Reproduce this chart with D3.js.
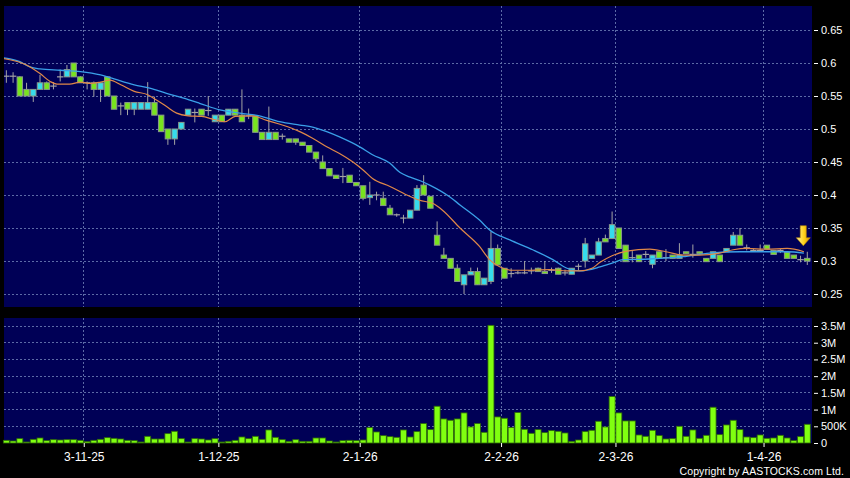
<!DOCTYPE html>
<html>
<head>
<meta charset="utf-8">
<script src="https://cdn.jsdelivr.net/npm/d3@7"></script>
<style>
  body { margin: 0; background: #000; }
  svg { display: block; }
  text { font-family: "Liberation Sans", Arial, sans-serif; fill: #fff; }
</style>
</head>
<body>
<svg></svg>
<script>
// daily OHLC, one entry per trading day (index 0 .. 119)
const opens = [0.58,0.58,0.579,0.56,0.55,0.56,0.57,0.565,0.579,0.579,0.60,0.579,0.57,0.57,0.56,0.579,0.55,0.535,0.54,0.53,
  0.53,0.53,0.54,0.521,0.50,0.485,0.50,0.521,0.525,0.53,0.528,0.511,0.521,0.521,0.53,0.521,0.52,0.52,0.495,0.484,
  0.495,0.489,0.485,0.485,0.48,0.475,0.465,0.45,0.44,0.43,0.428,0.43,0.419,0.414,0.396,0.40,0.395,0.38,0.37,0.365,
  0.365,0.377,0.415,0.398,0.339,0.309,0.304,0.289,0.264,0.279,0.284,0.264,0.269,0.319,0.289,0.281,0.282,0.282,0.285,0.289,
  0.284,0.286,0.289,0.282,0.28,0.292,0.30,0.304,0.309,0.334,0.334,0.35,0.324,0.305,0.309,0.31,0.295,0.314,0.305,0.309,
  0.304,0.314,0.31,0.314,0.304,0.304,0.309,0.314,0.324,0.339,0.32,0.316,0.316,0.324,0.316,0.316,0.313,0.309,0.302,0.304];
const highs = [0.589,0.586,0.58,0.57,0.56,0.582,0.572,0.571,0.59,0.597,0.60,0.58,0.572,0.572,0.57,0.58,0.55,0.54,0.54,0.54,
  0.54,0.571,0.549,0.521,0.50,0.50,0.51,0.53,0.531,0.53,0.55,0.521,0.521,0.53,0.53,0.56,0.531,0.52,0.495,0.534,
  0.495,0.493,0.485,0.485,0.48,0.475,0.465,0.46,0.44,0.43,0.441,0.43,0.419,0.414,0.42,0.405,0.405,0.385,0.372,0.37,
  0.377,0.415,0.43,0.398,0.36,0.32,0.304,0.295,0.279,0.29,0.29,0.274,0.345,0.325,0.289,0.289,0.285,0.30,0.29,0.29,
  0.30,0.29,0.29,0.287,0.289,0.296,0.335,0.309,0.335,0.34,0.375,0.35,0.324,0.315,0.309,0.315,0.309,0.314,0.318,0.309,
  0.327,0.314,0.325,0.314,0.304,0.314,0.309,0.319,0.344,0.35,0.325,0.318,0.325,0.324,0.316,0.318,0.313,0.309,0.308,0.314];
const lows = [0.57,0.57,0.55,0.55,0.541,0.56,0.56,0.56,0.572,0.579,0.579,0.57,0.56,0.549,0.541,0.55,0.53,0.521,0.521,0.521,
  0.53,0.53,0.521,0.496,0.476,0.476,0.50,0.521,0.51,0.521,0.52,0.511,0.511,0.521,0.521,0.511,0.515,0.495,0.484,0.484,
  0.484,0.484,0.48,0.476,0.475,0.465,0.45,0.44,0.429,0.425,0.418,0.419,0.414,0.392,0.385,0.392,0.384,0.37,0.367,0.357,
  0.365,0.377,0.40,0.38,0.324,0.304,0.289,0.269,0.25,0.279,0.264,0.264,0.265,0.294,0.274,0.275,0.28,0.28,0.28,0.284,
  0.281,0.282,0.28,0.278,0.28,0.285,0.29,0.304,0.309,0.329,0.334,0.319,0.299,0.298,0.299,0.305,0.289,0.304,0.30,0.304,
  0.304,0.311,0.305,0.311,0.299,0.304,0.299,0.314,0.324,0.324,0.316,0.314,0.314,0.318,0.31,0.312,0.304,0.304,0.298,0.294];
const closes = [0.58,0.58,0.55,0.55,0.56,0.57,0.56,0.565,0.579,0.59,0.579,0.57,0.57,0.56,0.57,0.55,0.53,0.535,0.53,0.54,
  0.54,0.54,0.521,0.496,0.485,0.50,0.51,0.53,0.525,0.521,0.528,0.521,0.511,0.53,0.521,0.511,0.52,0.495,0.484,0.495,
  0.484,0.489,0.48,0.48,0.475,0.465,0.455,0.44,0.429,0.425,0.428,0.419,0.414,0.395,0.40,0.40,0.384,0.37,0.37,0.365,
  0.377,0.41,0.40,0.38,0.324,0.304,0.289,0.269,0.279,0.284,0.264,0.274,0.319,0.294,0.274,0.281,0.282,0.282,0.285,0.284,
  0.281,0.286,0.28,0.282,0.289,0.292,0.326,0.309,0.329,0.329,0.355,0.319,0.299,0.305,0.299,0.31,0.309,0.304,0.305,0.304,
  0.309,0.311,0.31,0.311,0.299,0.314,0.299,0.319,0.339,0.324,0.32,0.316,0.316,0.318,0.31,0.316,0.304,0.304,0.302,0.30];
// daily volume, shares
const volumes = [80e3,60e3,130e3,30e3,110e3,150e3,70e3,100e3,90e3,100e3,100e3,80e3,40e3,80e3,110e3,160e3,140e3,120e3,80e3,70e3,
  30e3,200e3,120e3,120e3,280e3,350e3,130e3,30e3,130e3,120e3,90e3,130e3,30e3,50e3,80e3,180e3,130e3,200e3,110e3,390e3,
  170e3,100e3,50e3,100e3,50e3,50e3,150e3,150e3,60e3,30e3,70e3,80e3,70e3,90e3,460e3,330e3,220e3,190e3,170e3,390e3,
  180e3,340e3,580e3,400e3,1100e3,720e3,680e3,720e3,900e3,480e3,580e3,320e3,3520e3,780e3,740e3,460e3,910e3,410e3,290e3,400e3,
  310e3,370e3,350e3,300e3,50e3,90e3,340e3,380e3,650e3,480e3,1390e3,900e3,660e3,660e3,240e3,200e3,380e3,220e3,120e3,130e3,
  500e3,200e3,390e3,140e3,230e3,1070e3,250e3,540e3,680e3,400e3,180e3,160e3,240e3,140e3,150e3,230e3,150e3,70e3,190e3,560e3];

// moving averages: [day index, price]
const ma10 = [[-0.5,0.607],[3,0.597],[5,0.584],[6.5,0.572],[7.5,0.568],[9.4,0.568],[11,0.571],[12.5,0.569],[14,0.571],[15.4,0.574],
  [17,0.567],[19,0.557],[21,0.552],[22.3,0.544],[23.8,0.534],[25.3,0.524],[27,0.520],[29,0.519],[31,0.514],[32.5,0.511],
  [34,0.519],[36.5,0.520],[38.7,0.513],[41,0.506],[43.6,0.496],[45.5,0.486],[47.6,0.473],[49.5,0.463],[51.5,0.450],[53,0.438],
  [54.4,0.425],[57,0.413],[59.5,0.400],[61.4,0.392],[63.4,0.387],[64.8,0.377],[67.4,0.350],[70.3,0.322],[71.8,0.302],[73.8,0.289],
  [75,0.286],[78,0.286],[80.7,0.287],[83.3,0.285],[85.2,0.285],[87,0.289],[88.2,0.298],[90,0.308],[92.2,0.315],[95.6,0.318],
  [98,0.314],[100.5,0.309],[103,0.309],[106,0.312],[108,0.317],[110,0.319],[113,0.318],[116,0.319],[118.5,0.314]];
const ma20 = [[-0.5,0.608],[2,0.602],[3.5,0.594],[5,0.591],[8,0.589],[11,0.587],[14,0.582],[15.4,0.578],[19,0.567],[21.3,0.562],
  [23.8,0.554],[26.2,0.547],[28.7,0.539],[31.7,0.529],[34.7,0.524],[37.6,0.520],[40.6,0.511],[43.6,0.506],[45.5,0.503],[47.6,0.496],
  [49.5,0.488],[52.5,0.473],[54.4,0.461],[57,0.448],[58.5,0.434],[60,0.427],[61.4,0.422],[62.9,0.415],[65.9,0.397],[67.4,0.385],
  [70.3,0.362],[71.8,0.347],[74.8,0.332],[78.2,0.317],[81.2,0.302],[83.3,0.289],[85.2,0.285],[88.2,0.291],[90.1,0.297],[91.6,0.302],
  [95.6,0.303],[100.5,0.3065],[104.5,0.312],[109,0.314],[113,0.314],[116,0.314],[118.5,0.312]];

const priceTicks = [0.25, 0.3, 0.35, 0.4, 0.45, 0.5, 0.55, 0.6, 0.65];
const volTicks = [0, 500e3, 1e6, 1.5e6, 2e6, 2.5e6, 3e6, 3.5e6];
const dateTicks = [11, 31, 52, 73, 90, 112];   // first trading day of month
const dateLabels = ["3-11-25", "1-12-25", "2-1-26", "2-2-26", "2-3-26", "1-4-26"];

const width = 850, height = 478;
const svg = d3.select("svg").attr("width", width).attr("height", height);
svg.append("rect").attr("width", width).attr("height", height).attr("fill", "#000");

const left = 4, right = 812;
const pTop = 6, pBot = 307, vTop = 318, vBot = 443;

const x = d3.scaleLinear().domain([-0.35, 119.7]).range([left, right]);
const yP = d3.scaleLinear().domain([0.25, 0.65]).range([294, 30]);
const yV = d3.scaleLinear().domain([0, 3.5e6]).range([vBot, 326]);

const gridColor = "#5c6aa6";
const navy = "#000056";

// panels
svg.append("rect").attr("x", left).attr("y", pTop).attr("width", right - left).attr("height", pBot - pTop).attr("fill", navy);
svg.append("rect").attr("x", left).attr("y", vTop).attr("width", right - left).attr("height", vBot - vTop).attr("fill", navy);

svg.append("clipPath").attr("id", "clipP")
  .append("rect").attr("x", left).attr("y", pTop).attr("width", right - left).attr("height", pBot - pTop);

// grid
const grid = svg.append("g").attr("stroke", gridColor).attr("stroke-dasharray", "2,2").attr("shape-rendering", "crispEdges");
grid.selectAll(".hp").data(priceTicks).join("line")
  .attr("x1", left).attr("x2", right).attr("y1", d => yP(d)).attr("y2", d => yP(d));
grid.selectAll(".hv").data(volTicks.slice(1)).join("line")
  .attr("x1", left).attr("x2", right).attr("y1", d => yV(d)).attr("y2", d => yV(d));
dateTicks.forEach(d => {
  grid.append("line").attr("x1", x(d + 0.5)).attr("x2", x(d + 0.5)).attr("y1", pTop).attr("y2", pBot);
  grid.append("line").attr("x1", x(d + 0.5)).attr("x2", x(d + 0.5)).attr("y1", vTop).attr("y2", vBot);
});

// volume bars
svg.append("g").selectAll("rect").data(volumes).join("rect")
  .attr("x", (d, i) => x(i) - 3)
  .attr("width", 6)
  .attr("y", d => yV(d))
  .attr("height", d => vBot - yV(d))
  .attr("fill", "#80ff10")
  .attr("stroke", "#2e6a08")
  .attr("stroke-width", 0.8);

// candles
const days = d3.range(opens.length);
const candles = svg.append("g").attr("clip-path", "url(#clipP)");
candles.selectAll(".wick").data(days).join("line")
  .attr("x1", i => x(i)).attr("x2", i => x(i))
  .attr("y1", i => yP(highs[i])).attr("y2", i => yP(lows[i]))
  .attr("stroke", "#a4a4a4").attr("stroke-width", 1);
candles.selectAll(".body").data(days.filter(i => opens[i] !== closes[i])).join("rect")
  .attr("x", i => x(i) - 2.7)
  .attr("width", 5.4)
  .attr("y", i => yP(Math.max(opens[i], closes[i])))
  .attr("height", i => Math.abs(yP(opens[i]) - yP(closes[i])))
  .attr("fill", i => closes[i] > opens[i] ? "#36dcec" : "#78e41e")
  .attr("stroke", "#8a9a8a").attr("stroke-width", 1);
candles.selectAll(".doji").data(days.filter(i => opens[i] === closes[i])).join("line")
  .attr("x1", i => x(i) - 3.2).attr("x2", i => x(i) + 3.2)
  .attr("y1", i => yP(opens[i])).attr("y2", i => yP(opens[i]))
  .attr("stroke", "#a4a4a4").attr("stroke-width", 1.2);

// moving averages
const maLine = d3.line().x(d => x(d[0])).y(d => yP(d[1])).curve(d3.curveMonotoneX);
candles.append("path").attr("d", maLine(ma20)).attr("fill", "none").attr("stroke", "#3aa0e8").attr("stroke-width", 1.3);
candles.append("path").attr("d", maLine(ma10)).attr("fill", "none").attr("stroke", "#e08848").attr("stroke-width", 1.2);

// arrow over the last candle
const defs = svg.append("defs");
const grad = defs.append("linearGradient").attr("id", "arrowGrad").attr("x1", 0).attr("x2", 1).attr("y1", 0).attr("y2", 0);
grad.append("stop").attr("offset", "0%").attr("stop-color", "#fff3a0");
grad.append("stop").attr("offset", "55%").attr("stop-color", "#ffd21a");
grad.append("stop").attr("offset", "100%").attr("stop-color", "#d99800");
const last = opens.length - 1;
const ax = x(last) - 4, tip = yP(highs[last]) - 6;
svg.append("path")
  .attr("d", `M${ax - 3},${tip - 20} L${ax + 3},${tip - 20} L${ax + 3},${tip - 8} L${ax + 7},${tip - 8} L${ax},${tip} L${ax - 7},${tip - 8} L${ax - 3},${tip - 8} Z`)
  .attr("fill", "url(#arrowGrad)").attr("stroke", "#c08a00").attr("stroke-width", 0.6);

// axes
const fmtVol = d => d === 0 ? "0" : d >= 1e6 ? (d / 1e6) + "M" : (d / 1e3) + "K";
const styleAxis = g => {
  g.select(".domain").remove();
  g.selectAll("line").attr("stroke", "#fff");
  g.selectAll("text").attr("fill", "#fff").attr("font-size", 11)
    .attr("font-family", '"Liberation Sans", Arial, sans-serif');
};
svg.append("g").attr("transform", `translate(${right + 2},0)`)
  .call(d3.axisRight(yP).tickValues(priceTicks).tickFormat(d => String(d)).tickSize(4).tickPadding(3))
  .call(styleAxis);
svg.append("g").attr("transform", `translate(${right + 2},0)`)
  .call(d3.axisRight(yV).tickValues(volTicks).tickFormat(fmtVol).tickSize(4).tickPadding(3))
  .call(styleAxis);
svg.append("g").attr("transform", `translate(0,${vBot})`)
  .call(d3.axisBottom(x).tickValues(dateTicks.map(d => d + 0.5)).tickFormat((d, i) => dateLabels[i]).tickSize(4).tickPadding(5))
  .call(styleAxis)
  .selectAll("text").attr("font-size", 12);

svg.append("text")
  .attr("x", 844).attr("y", 475)
  .attr("text-anchor", "end")
  .attr("font-size", 10.5)
  .attr("letter-spacing", "0.1px")
  .text("Copyright by AASTOCKS.com Ltd.");
</script>
</body>
</html>
